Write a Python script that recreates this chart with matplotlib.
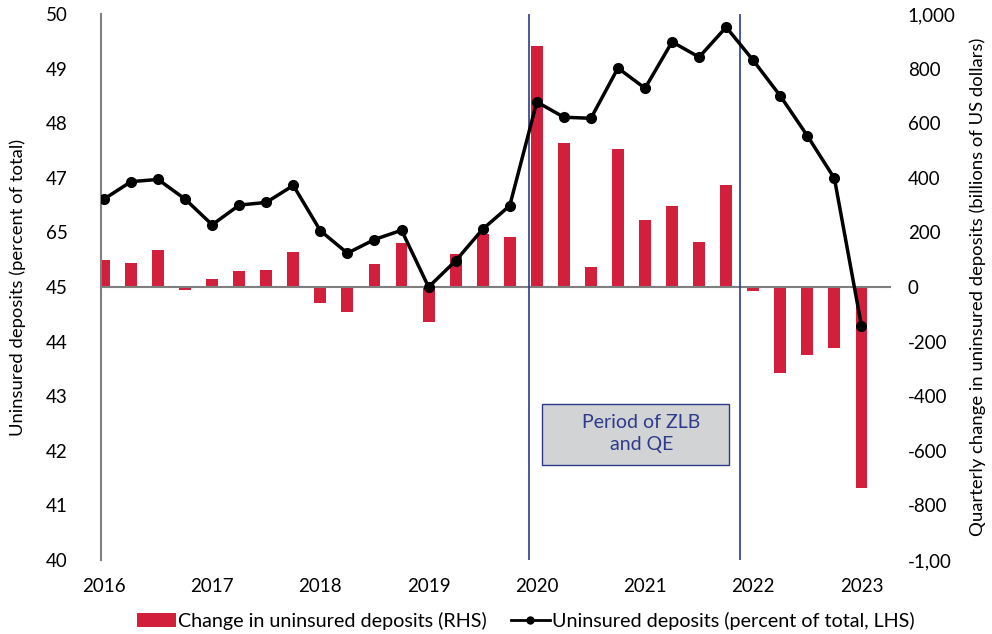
import numpy as np
import matplotlib
matplotlib.use("Agg")
import matplotlib.pyplot as plt
from matplotlib.patches import Rectangle, Patch
from matplotlib.lines import Line2D

plt.rcParams["font.family"] = ["Lato", "DejaVu Sans"]

# quarterly data, 2016Q1 .. 2023Q1
share_pct = [46.61, 46.93, 46.97, 46.61, 46.14, 46.50, 46.55, 46.86,
             46.03, 45.62, 45.87, 46.04, 45.00, 45.48, 46.06, 46.49,
             48.39, 48.11, 48.09, 49.01, 48.64, 49.49, 49.21, 49.76,
             49.15, 48.50, 47.77, 46.99, 44.29]
change_bn = [99, 87, 134, -10, 29, 57, 62, 128,
             -60, -93, 84, 161, -127, 121, 193, 183,
             884, 526, 74, 505, 245, 296, 164, 375,
             -14, -314, -249, -225, -736]
years = ["2016", "2017", "2018", "2019", "2020", "2021", "2022", "2023"]
left_ticks = [40, 41, 42, 43, 44, 45, 46, 47, 48, 49, 50]
left_labels = ["40", "41", "42", "43", "44", "45", "65", "47", "48", "49", "50"]
right_ticks = [-1000, -800, -600, -400, -200, 0, 200, 400, 600, 800, 1000]
right_labels = ["-1,00", "-800", "-600", "-400", "-200", "0", "200", "400", "600", "800", "1,000"]

red = "#d21f3c"
navy = "#2e3a8c"
grey = "#7f7f7f"

x = np.arange(len(share_pct))

fig = plt.figure(figsize=(9.92, 6.34), dpi=100)
ax = fig.add_axes([0.1018, 0.1167, 0.7966, 0.8612])
ax2 = ax.twinx()

# bars on right axis
ax2.bar(x, change_bn, width=0.44, color=red, zorder=2)
ax2.axhline(0, color=grey, lw=1.5, zorder=3)
ax2.set_ylim(-1000, 1000)
ax2.set_yticks(right_ticks)
ax2.set_yticklabels(right_labels)
ax2.set_ylabel("Quarterly change in uninsured deposits (billions of US dollars)", fontsize=13.3, labelpad=10)

# line on left axis, drawn above bars
ax.set_zorder(ax2.get_zorder() + 1)
ax.patch.set_visible(False)
ax.plot(x, share_pct, color="black", lw=2.5, marker="o", markersize=7, zorder=5)
ax.set_ylim(40, 50)
ax.set_yticks(left_ticks)
ax.set_yticklabels(left_labels)
ax.set_ylabel("Uninsured deposits (percent of total)", fontsize=13.3, labelpad=14)
ax.set_xlim(-0.11, 29.1)
ax.set_xticks(x[::4])
ax.set_xticklabels(years)

# ZLB period markers
for xv in [15.7, 23.5]:
    ax.axvline(xv, color=navy, lw=1.2, zorder=4)

ax.add_patch(Rectangle((0.558, 0.174), 0.2367, 0.1117, transform=ax.transAxes,
                       facecolor="#d1d3d4", edgecolor=navy, lw=1, zorder=6))
ax.text(0.684, 0.232, "Period of ZLB\nand QE", transform=ax.transAxes,
        ha="center", va="center", multialignment="center",
        color=navy, fontsize=14, zorder=7, linespacing=1.35)

for a in (ax, ax2):
    for s in ["top", "right", "bottom"]:
        a.spines[s].set_visible(False)
    a.tick_params(length=0, labelsize=13.5)
ax2.spines["left"].set_visible(False)
ax.spines["left"].set_color(grey)
ax.spines["left"].set_linewidth(1.5)
ax.tick_params(axis="y", pad=24)
ax.tick_params(axis="x", pad=13)
ax2.tick_params(axis="y", pad=12)

handles = [Patch(facecolor=red),
           Line2D([0], [0], color="black", lw=2, marker="o", markersize=5)]
labels = ["Change in uninsured deposits (RHS)",
          "Uninsured deposits (percent of total, LHS)"]
fig.legend(handles, labels, loc="lower center", bbox_to_anchor=(0.53, -0.022),
           ncol=2, frameon=False, fontsize=14.2, handlelength=2.0,
           handletextpad=0.1, columnspacing=1.2)

fig.savefig("out.png", dpi=100)
